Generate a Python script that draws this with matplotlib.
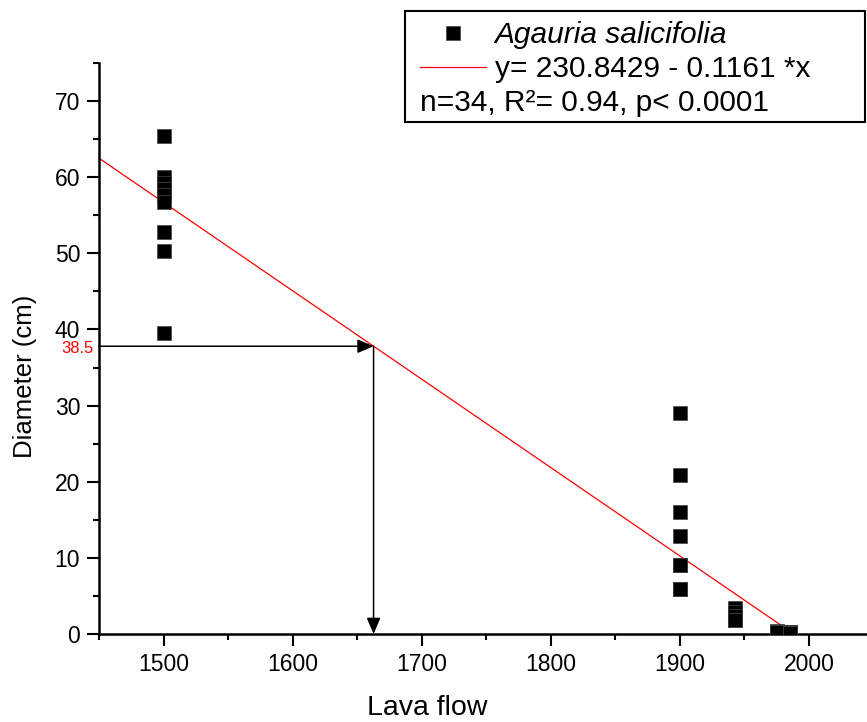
import matplotlib
matplotlib.use('Agg')
import matplotlib.pyplot as plt
from matplotlib.lines import Line2D
from matplotlib.patches import Rectangle
from matplotlib.ticker import MultipleLocator

plt.rcParams['font.family'] = ['Liberation Sans', 'DejaVu Sans']

# lava flow year and stem diameter (cm) of Agauria salicifolia
flow_years = [1500] * 10 + [1900] * 8 + [1943] * 5 + [1975] * 5 + [1985] * 6
diameters = ([65.4, 60.0, 59.2, 58.4, 58.4, 57.6, 56.8, 52.8, 50.3, 39.6]
             + [29.0, 20.9, 16.0, 12.9, 9.0, 9.0, 5.9, 5.9]
             + [3.4, 2.9, 2.3, 1.8, 1.8]
             + [0.4, 0.3, 0.3, 0.2, 0.2]
             + [0.3, 0.2, 0.2, 0.1, 0.1, 0.1])

# fitted regression
intercept = 230.8429
slope = -0.1161
fit_x = [1450, -intercept / slope]
fit_y = [intercept + slope * x for x in fit_x]

# read-off value (arrow drawn where it sits in the original)
d_label = '38.5'
d_arrow = 37.8
x_mark = (d_arrow - intercept) / slope

fig = plt.figure(figsize=(8.67, 7.22), dpi=100)
ax = fig.add_axes([99 / 867, 88 / 722, 768 / 867, 571 / 722])

pts, = ax.plot(flow_years, diameters, 's', color='black', ms=9.4, mec='#444444', mew=0.5,
               zorder=3)
fit, = ax.plot(fit_x, fit_y, color='red', lw=0.9, zorder=2)

# arrows from the y axis to the line and down to the x axis
arrow = dict(arrowstyle='-|>,head_length=0.7,head_width=0.3', color='black',
             lw=1.1, shrinkA=0, shrinkB=0, mutation_scale=14)
ax.annotate('', xy=(x_mark, d_arrow), xytext=(1450, d_arrow), arrowprops=arrow)
ax.annotate('', xy=(x_mark, 0), xytext=(x_mark, d_arrow), arrowprops=arrow)
ax.annotate(d_label, xy=(0, d_arrow), xycoords=ax.get_yaxis_transform(),
            xytext=(-4, -2), textcoords='offset points',
            color='red', fontsize=12, ha='right', va='center')

ax.set_xlim(1450, 2045)
ax.set_ylim(0, 75)
ax.xaxis.set_major_locator(MultipleLocator(100))
ax.xaxis.set_minor_locator(MultipleLocator(50))
ax.yaxis.set_major_locator(MultipleLocator(10))
ax.yaxis.set_minor_locator(MultipleLocator(5))
ax.spines['top'].set_visible(False)
ax.spines['right'].set_visible(False)
for s in ['left', 'bottom']:
    ax.spines[s].set_linewidth(1.8)
ax.tick_params(which='major', length=8.6, width=1.5, labelsize=16.5, pad=5)
ax.tick_params(which='minor', length=4.3, width=1.5)
ax.set_xlabel('Lava flow', fontsize=20.5, labelpad=14, x=0.427)
ax.set_ylabel('Diameter (cm)', fontsize=18.5, labelpad=13, y=0.452)

blank = Line2D([], [], linestyle='none')
leg = fig.legend([pts, fit, blank],
                 ['Agauria salicifolia', 'y= 230.8429 - 0.1161 *x', 'n=34, R\u00b2= 0.94, p< 0.0001'],
                 loc='upper left', bbox_to_anchor=(420 / 867, 1 - 21 / 722),
                 fontsize=21.5, frameon=False,
                 handlelength=2.2, handletextpad=0.3, labelspacing=0.2, borderpad=0,
                 borderaxespad=0, numpoints=1)
leg.get_texts()[0].set_style('italic')
# third row has no symbol, its text starts at the left
try:
    item = leg._legend_handle_box.get_children()[0].get_children()[2]
    item._children = [item.get_children()[1]]
except Exception:
    pass
# legend frame is wider than its content on the right
fig.add_artist(Rectangle((405 / 867, 1 - 122 / 722), 460 / 867, 111 / 722,
                         transform=fig.transFigure, fill=False, lw=1.5, ec='black'))

fig.savefig('out.png', dpi=100)
